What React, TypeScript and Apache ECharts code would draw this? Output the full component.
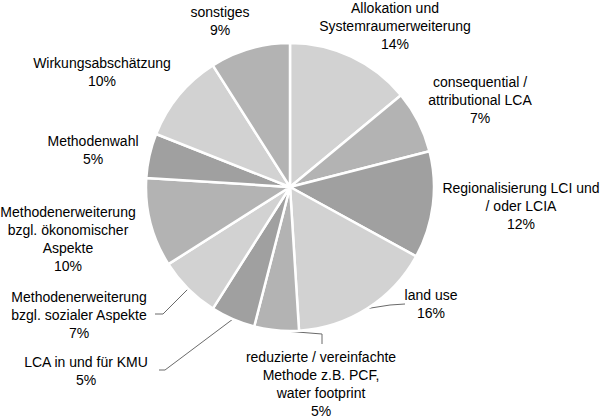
import React, { useEffect, useRef } from "react";
import * as echarts from "echarts";

const categories = [
  "Allokation und\nSystemraumerweiterung",
  "consequential /\nattributional LCA",
  "Regionalisierung LCI und\n/ oder LCIA",
  "land use",
  "reduzierte / vereinfachte\nMethode z.B. PCF,\nwater footprint",
  "LCA in und für KMU",
  "Methodenerweiterung\nbzgl. sozialer Aspekte",
  "Methodenerweiterung\nbzgl. ökonomischer\nAspekte",
  "Methodenwahl",
  "Wirkungsabschätzung",
  "sonstiges",
];
const values = [14, 7, 12, 16, 5, 5, 7, 10, 5, 10, 9];

// layout: label text centre positions (px) and optional leader-line bend/end points
const labelCenters: [number, number][] = [
  [395, 26],
  [480, 100],
  [521, 206],
  [431, 304],
  [321, 384],
  [86, 371],
  [79, 315],
  [68, 239],
  [93, 150],
  [102, 72],
  [220, 21],
];
const leaderPoints: ([number, number][] | null)[] = [
  null,
  null,
  null,
  [[390, 305], [405, 304]],
  [[322, 334], [322, 344]],
  [[165, 370], [159, 370]],
  [[163, 314], [155, 314]],
  null,
  null,
  null,
  null,
];
const sliceColors = [
  "#d2d2d2", "#b3b3b3", "#a0a0a0",
  "#d2d2d2", "#b3b3b3", "#a0a0a0",
  "#d2d2d2", "#b3b3b3", "#a0a0a0",
  "#d2d2d2", "#b3b3b3",
];

export default function App() {
  const ref = useRef<HTMLDivElement>(null);
  useEffect(() => {
    document.body.style.margin = "0";
    const chart = echarts.init(ref.current!, undefined, { renderer: "svg" });
    chart.setOption({
      animation: false,
      backgroundColor: "#ffffff",
      series: [
        {
          type: "pie",
          center: [290, 187],
          radius: [0, 144],
          startAngle: 90,
          clockwise: true,
          avoidLabelOverlap: false,
          itemStyle: { borderColor: "#ffffff", borderWidth: 2.5 },
          label: {
            show: true,
            position: "outside",
            color: "#000000",
            fontFamily: "'Liberation Sans', Arial, sans-serif",
            fontSize: 14,
            lineHeight: 18,
            align: "center",
            formatter: (p: any) => `${p.name}\n${p.value}%`,
          },
          labelLine: {
            show: false,
            lineStyle: { color: "#6a6a6a", width: 1 },
          },
          labelLayout: (params: any) => {
            const i = params.dataIndex;
            const [cx, cy] = labelCenters[i];
            const res: any = { x: cx, y: cy, align: "center", verticalAlign: "middle" };
            const lp = leaderPoints[i];
            if (lp && params.labelLinePoints) {
              const start = params.labelLinePoints[0];
              res.labelLinePoints = [start, lp[0], lp[1]];
            }
            return res;
          },
          data: categories.map((name, i) => ({
            name,
            value: values[i],
            itemStyle: { color: sliceColors[i] },
            labelLine: { show: leaderPoints[i] !== null },
          })),
        },
      ],
    });
    return () => chart.dispose();
  }, []);
  return <div ref={ref} style={{ width: 609, height: 418 }} />;
}
